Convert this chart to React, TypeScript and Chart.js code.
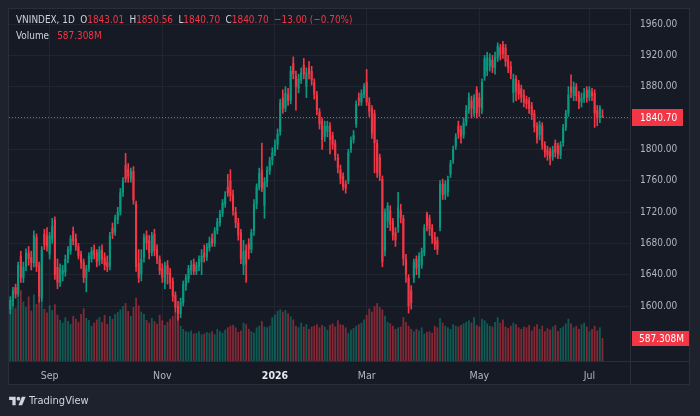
import React, { useEffect, useRef } from "react";
import { Chart, registerables } from "chart.js";

Chart.register(...registerables);

// ---------- DATA ----------
const opens = [
  1596, 1606, 1624, 1615, 1664, 1636, 1650, 1668, 1662, 1655, 1688, 1652, 1610, 1692, 1690, 1666, 1685,
  1710, 1650, 1630, 1640, 1643, 1660, 1670, 1696, 1686, 1676, 1666, 1656, 1636, 1648, 1660, 1672, 1668, 1658, 1672, 1662, 1656,
  1650, 1700, 1694, 1710, 1720, 1745, 1780, 1775, 1762, 1772, 1730, 1655, 1640, 1662, 1690, 1684, 1668, 1692, 1672, 1660, 1648, 1630, 1652, 1642, 1632, 1614,
  1600, 1590, 1604, 1626, 1634, 1646, 1654, 1644, 1650, 1656, 1668, 1662, 1674, 1686, 1680, 1696, 1706, 1718, 1730, 1752, 1760, 1742, 1720, 1706, 1694, 1652, 1672, 1680, 1672, 1696, 1730, 1752,
  1774, 1728, 1758, 1772, 1786, 1796, 1806, 1822, 1866, 1852, 1870, 1862, 1910, 1894, 1878, 1888, 1908, 1880, 1904, 1900, 1886, 1870, 1848, 1836, 1816, 1822, 1830, 1818, 1808, 1790, 1774, 1766, 1756,
  1760, 1800, 1812, 1832, 1866, 1860, 1870, 1886, 1860, 1852, 1846, 1808, 1790, 1762, 1670, 1708, 1722, 1708, 1694, 1700, 1722, 1712, 1660, 1636, 1620, 1636, 1660, 1640, 1652, 1668, 1718, 1712, 1700, 1688, 1684,
  1700, 1756, 1742, 1746, 1768, 1786, 1804, 1830, 1826, 1818, 1834, 1850, 1862, 1846, 1876, 1866, 1852, 1892, 1900, 1906, 1914, 1904, 1916, 1930, 1934, 1930, 1914, 1906, 1872, 1890, 1884, 1878, 1870,
  1864, 1862, 1856, 1846, 1830, 1818, 1830, 1806, 1800, 1798, 1790, 1808, 1804, 1792, 1808, 1828, 1846, 1880, 1868, 1880, 1870, 1860, 1864, 1876, 1866, 1874, 1872, 1850, 1840, 1843.01,
];
const highs = [
  1612, 1624, 1628, 1656, 1670, 1656, 1673, 1676, 1670, 1696, 1692, 1656, 1676, 1698, 1700, 1694, 1712,
  1714, 1660, 1654, 1652, 1665, 1676, 1690, 1701, 1692, 1680, 1670, 1660, 1652, 1668, 1675, 1678, 1672, 1676, 1678, 1668, 1664,
  1694, 1706, 1716, 1726, 1750, 1764, 1795, 1782, 1776, 1778, 1734, 1672, 1672, 1692, 1696, 1690, 1694, 1698, 1678, 1664, 1654, 1656, 1658, 1648, 1636, 1618,
  1606, 1610, 1632, 1640, 1652, 1658, 1660, 1656, 1664, 1672, 1678, 1680, 1688, 1692, 1700, 1712, 1722, 1736, 1746, 1768, 1774, 1748, 1726, 1712, 1698, 1684, 1678, 1686, 1698, 1736, 1756, 1776,
  1808, 1764, 1778, 1790, 1802, 1812, 1826, 1864, 1876, 1880, 1878, 1906, 1918, 1900, 1896, 1904, 1916, 1904, 1912, 1906, 1890, 1874, 1852, 1840, 1836, 1836, 1834, 1822, 1812, 1794, 1780, 1770, 1760,
  1800, 1816, 1824, 1862, 1872, 1876, 1884, 1902, 1866, 1856, 1850, 1812, 1794, 1766, 1724, 1732, 1728, 1712, 1700, 1745, 1730, 1716, 1666, 1640, 1626, 1660, 1664, 1668, 1674, 1704, 1720, 1716, 1704, 1694, 1688,
  1760, 1762, 1760, 1766, 1786, 1804, 1820, 1836, 1830, 1840, 1856, 1872, 1868, 1870, 1880, 1872, 1890, 1920, 1924, 1922, 1920, 1924, 1936, 1934, 1938, 1934, 1920, 1912, 1896, 1894, 1888, 1882, 1876,
  1868, 1866, 1860, 1850, 1834, 1836, 1834, 1810, 1804, 1802, 1804, 1812, 1808, 1810, 1832, 1850, 1880, 1895, 1886, 1884, 1874, 1872, 1878, 1880, 1880, 1878, 1876, 1856, 1856, 1850.56,
];
const lows = [
  1590, 1600, 1610, 1612, 1630, 1630, 1645, 1652, 1646, 1650, 1644, 1605, 1606, 1672, 1670, 1660, 1680,
  1634, 1622, 1625, 1632, 1638, 1655, 1666, 1678, 1671, 1660, 1648, 1630, 1618, 1644, 1656, 1660, 1650, 1652, 1654, 1646, 1644,
  1646, 1686, 1690, 1705, 1716, 1740, 1758, 1758, 1758, 1730, 1644, 1630, 1632, 1656, 1672, 1660, 1664, 1664, 1654, 1640, 1630, 1622, 1628, 1622, 1606, 1592,
  1582, 1585, 1600, 1620, 1630, 1640, 1640, 1640, 1645, 1640, 1656, 1658, 1670, 1676, 1676, 1692, 1702, 1714, 1726, 1740, 1734, 1716, 1700, 1684, 1654, 1640, 1630, 1660, 1668, 1690, 1724, 1748,
  1746, 1712, 1752, 1768, 1780, 1792, 1800, 1818, 1846, 1848, 1856, 1858, 1890, 1850, 1872, 1884, 1890, 1866, 1890, 1882, 1864, 1844, 1826, 1800, 1810, 1816, 1794, 1800, 1786, 1770, 1756, 1748, 1744,
  1756, 1796, 1808, 1828, 1856, 1856, 1866, 1856, 1842, 1814, 1770, 1764, 1760, 1650, 1664, 1700, 1696, 1684, 1676, 1694, 1706, 1652, 1630, 1591, 1596, 1630, 1640, 1636, 1648, 1664, 1696, 1690, 1680, 1672, 1666,
  1696, 1736, 1736, 1740, 1764, 1782, 1800, 1814, 1808, 1814, 1830, 1846, 1840, 1842, 1840, 1842, 1846, 1888, 1894, 1900, 1898, 1896, 1912, 1914, 1916, 1906, 1898, 1890, 1860, 1862, 1864, 1860, 1854,
  1852, 1846, 1838, 1822, 1808, 1812, 1800, 1790, 1786, 1780, 1786, 1790, 1788, 1788, 1804, 1824, 1842, 1866, 1862, 1862, 1852, 1854, 1860, 1860, 1862, 1862, 1828, 1830, 1834, 1840.7,
];
const closes = [
  1608, 1620, 1615, 1652, 1636, 1650, 1668, 1660, 1655, 1690, 1650, 1612, 1672, 1678, 1676, 1690, 1702,
  1640, 1630, 1648, 1646, 1660, 1672, 1686, 1683, 1676, 1664, 1655, 1636, 1648, 1664, 1670, 1665, 1656, 1672, 1660, 1652, 1650,
  1690, 1692, 1712, 1720, 1745, 1760, 1762, 1765, 1772, 1735, 1650, 1636, 1660, 1688, 1680, 1668, 1690, 1670, 1660, 1645, 1636, 1652, 1640, 1630, 1612, 1598,
  1590, 1605, 1628, 1636, 1648, 1652, 1644, 1652, 1660, 1664, 1662, 1676, 1682, 1680, 1696, 1708, 1718, 1732, 1740, 1744, 1740, 1722, 1706, 1690, 1660, 1670, 1654, 1672, 1694, 1730, 1752, 1770,
  1750, 1758, 1774, 1786, 1796, 1806, 1820, 1860, 1852, 1872, 1862, 1900, 1896, 1880, 1890, 1898, 1896, 1898, 1896, 1888, 1870, 1850, 1832, 1812, 1830, 1830, 1812, 1806, 1792, 1776, 1762, 1752, 1750,
  1796, 1812, 1818, 1858, 1862, 1872, 1880, 1860, 1848, 1820, 1808, 1770, 1766, 1656, 1720, 1728, 1704, 1690, 1684, 1726, 1712, 1660, 1640, 1600, 1604, 1656, 1648, 1664, 1670, 1700, 1702, 1698, 1686, 1678, 1672,
  1756, 1742, 1756, 1762, 1782, 1800, 1816, 1820, 1816, 1834, 1850, 1866, 1852, 1866, 1846, 1854, 1886, 1916, 1918, 1916, 1904, 1918, 1932, 1920, 1922, 1912, 1904, 1896, 1890, 1874, 1870, 1866, 1860,
  1858, 1852, 1844, 1828, 1814, 1832, 1806, 1796, 1792, 1788, 1800, 1796, 1794, 1806, 1828, 1846, 1870, 1872, 1880, 1868, 1860, 1866, 1872, 1866, 1876, 1868, 1846, 1840, 1853.7, 1840.7,
];
// volume in millions of shares
const volumes = [
  1560, 1480, 1350, 1620, 1810, 1520, 1380, 1650, 1290, 1700, 1460, 1560, 1680, 1330, 1240, 1420, 1300,
  1450, 1180, 1050, 980, 1120, 1020, 950, 1150, 1080, 1000, 1200, 1350, 1100, 1050, 900, 980, 1060, 1120, 1000, 1180, 950,
  1150, 1080, 1200, 1250, 1320, 1400, 1480, 1280, 1150, 1380, 1620, 1420, 1260, 1200, 1050, 980, 1100, 1020, 950, 1180, 1040, 920, 1000, 1080, 1150, 1240,
  1180, 900, 820, 760, 740, 780, 700, 720, 760, 680, 700, 740, 720, 760, 680, 820, 760, 720, 800, 860, 900, 920, 860, 740, 780, 980, 940, 820, 760, 720, 860, 900,
  1020, 880, 860, 900, 1120, 1180, 1280, 1320, 1260, 1300, 1220, 1140, 1060, 900, 860, 980, 880, 940, 820, 880, 900, 940, 860, 920, 880, 800, 920, 960, 880, 1040, 940, 920, 860,
  720, 800, 840, 900, 940, 980, 1060, 1180, 1340, 1260, 1400, 1480, 1380, 1320, 1160, 1000, 960, 900, 820, 860, 880, 1120, 1000, 900, 820, 760, 820, 780, 860, 700, 740, 760, 720, 900, 860,
  1100, 980, 900, 860, 820, 940, 900, 880, 920, 960, 1000, 1040, 980, 1120, 920, 880, 1080, 1040, 960, 900, 880, 1000, 1120, 980, 1060, 880, 840, 900, 980, 940, 860, 820, 880,
  860, 920, 780, 880, 940, 820, 900, 760, 840, 800, 880, 920, 760, 840, 880, 960, 1080, 960, 860, 900, 820, 940, 980, 880, 760, 820, 900, 780, 860, 587.308,
];
const tickIndex = [15, 58, 101, 136, 179, 221];
const tickLabels = ["Sep", "Nov", "2026", "Mar", "May", "Jul"];
const priceTicks = [1600, 1640, 1680, 1720, 1760, 1800, 1840, 1880, 1920, 1960];
const symbolName = "VNINDEX, 1D";
const rightPadBars = 10;

// ---------- STYLE ----------
const FONT = '"DejaVu Sans Condensed", "Liberation Sans", Arial, sans-serif';
const UP = "#089981";
const DOWN = "#f23645";
const UP_VOL = "rgba(8,153,129,0.5)";
const DOWN_VOL = "rgba(242,54,69,0.5)";
const GRID = "#21252f";
const AXIS_TEXT = "#b2b5be";
const OUTER_BG = "#1e222d";
const INNER_BG = "#161a25";
const BORDER = "#2a2e39";

const PRICE_MIN = 1529.8;
const PRICE_MAX = 1979.15;
const VOL_MAX = 9000;

function fmtVol(v: number) {
  return v.toFixed(3) + "M";
}

export default function App() {
  const ref = useRef<HTMLCanvasElement | null>(null);

  const n = closes.length;
  const lastO = opens[n - 1];
  const lastH = highs[n - 1];
  const lastL = lows[n - 1];
  const lastC = closes[n - 1];
  const prevC = closes[n - 2];
  const chg = lastC - prevC;
  const chgPct = (chg / prevC) * 100;
  const sign = (v: number) => (v < 0 ? "\u2212" : "+");
  const lastVol = volumes[n - 1];
  const lastUp = lastC >= lastO;
  const valColor = chg < 0 ? DOWN : UP;

  useEffect(() => {
    if (!ref.current) return;
    const labels = Array.from({ length: n + rightPadBars }, (_, i) => String(i));
    const isUp = closes.map((c, i) => c >= opens[i]);

    const bgPlugin = {
      id: "bg",
      beforeDraw(chart: any) {
        const ctx = chart.ctx;
        ctx.save();
        ctx.fillStyle = OUTER_BG;
        ctx.fillRect(0, 0, chart.width, chart.height);
        ctx.fillStyle = INNER_BG;
        ctx.fillRect(8, 8, 682, 377);
        ctx.strokeStyle = BORDER;
        ctx.lineWidth = 1;
        ctx.strokeRect(8.5, 8.5, 681, 376);
        const a = chart.chartArea;
        ctx.beginPath();
        ctx.moveTo(9, Math.round(a.bottom) + 0.5);
        ctx.lineTo(690, Math.round(a.bottom) + 0.5);
        ctx.moveTo(Math.round(a.right) + 0.5, 9);
        ctx.lineTo(Math.round(a.right) + 0.5, 385);
        ctx.stroke();
        ctx.restore();
      },
      afterDatasetsDraw(chart: any) {
        const ctx = chart.ctx;
        const a = chart.chartArea;
        const y = Math.round(chart.scales.y.getPixelForValue(lastC)) + 0.5;
        ctx.save();
        ctx.strokeStyle = lastUp ? UP : DOWN;
        ctx.lineWidth = 1;
        ctx.setLineDash([1, 2]);
        ctx.beginPath();
        ctx.moveTo(a.left, y);
        ctx.lineTo(a.right, y);
        ctx.stroke();
        ctx.restore();
      },
      afterDraw(chart: any) {
        const ctx = chart.ctx;
        const a = chart.chartArea;
        ctx.save();
        ctx.font = `10px ${FONT}`;
        ctx.textBaseline = "middle";
        ctx.textAlign = "left";
        const py = chart.scales.y.getPixelForValue(lastC);
        ctx.fillStyle = lastUp ? UP : DOWN;
        ctx.fillRect(a.right + 2, Math.round(py) - 8, 51, 17);
        ctx.fillStyle = "#ffffff";
        ctx.fillText(lastC.toFixed(2), a.right + 10, Math.round(py) + 1);
        const vy = chart.scales.yVol.getPixelForValue(lastVol);
        ctx.fillStyle = lastUp ? UP : DOWN;
        ctx.fillRect(a.right + 2, Math.round(vy) - 7, 57, 15);
        ctx.fillStyle = "#ffffff";
        ctx.fillText(fmtVol(lastVol), a.right + 9, Math.round(vy) + 1);
        ctx.restore();
      },
    };

    const chart = new Chart(ref.current, {
      type: "bar",
      data: {
        labels,
        datasets: [
          {
            label: "body",
            data: opens.map((o, i) => [o, closes[i]]) as any,
            backgroundColor: isUp.map((u) => (u ? UP : DOWN)),
            borderWidth: 0,
            barPercentage: 0.8,
            categoryPercentage: 1,
            grouped: false,
            minBarLength: 1,
            order: 0,
            yAxisID: "y",
          },
          {
            label: "wick",
            data: lows.map((l, i) => [l, highs[i]]) as any,
            backgroundColor: isUp.map((u) => (u ? UP : DOWN)),
            borderWidth: 0,
            barThickness: 1,
            grouped: false,
            order: 1,
            yAxisID: "y",
          },
          {
            label: "volume",
            data: volumes,
            backgroundColor: isUp.map((u) => (u ? UP_VOL : DOWN_VOL)),
            borderWidth: 0,
            barPercentage: 0.7,
            categoryPercentage: 1,
            grouped: false,
            order: 2,
            yAxisID: "yVol",
          },
        ],
      },
      options: {
        responsive: false,
        animation: false,
        events: [],
        layout: { padding: { left: 9, top: 9, right: 10, bottom: 31 } },
        plugins: { legend: { display: false }, tooltip: { enabled: false } },
        scales: {
          x: {
            type: "category",
            offset: true,
            grid: { offset: false, color: GRID, drawTicks: false },
            border: { display: false },
            ticks: {
              autoSkip: false,
              maxRotation: 0,
              padding: 9,
              color: (c: any) => (tickLabels[c.index] === "2026" ? "#e8eaf0" : AXIS_TEXT),
              font: (c: any) => ({
                family: FONT,
                size: 10.5,
                weight: tickLabels[c.index] === "2026" ? "bold" : "normal",
              }),
              callback: (_v: any, i: number) => tickLabels[i] ?? "",
            },
            afterBuildTicks: (s: any) => {
              s.ticks = tickIndex.map((v) => ({ value: v }));
            },
            afterFit: (s: any) => {
              s.height = 24;
              s.paddingLeft = 0;
              s.paddingRight = 0;
            },
          },
          y: {
            position: "right",
            min: PRICE_MIN,
            max: PRICE_MAX,
            grid: { color: GRID, drawTicks: false },
            border: { display: false },
            ticks: {
              padding: 10,
              color: AXIS_TEXT,
              font: { family: FONT, size: 10 },
              callback: (v: any) => Number(v).toFixed(2),
            },
            afterBuildTicks: (s: any) => {
              s.ticks = priceTicks.map((v) => ({ value: v }));
            },
            afterFit: (s: any) => {
              s.width = 60;
              s.paddingTop = 0;
              s.paddingBottom = 0;
            },
          },
          yVol: {
            display: false,
            min: 0,
            max: VOL_MAX,
          },
        },
      } as any,
      plugins: [bgPlugin],
    });
    return () => chart.destroy();
  }, []);

  const lbl: React.CSSProperties = { color: "#d1d4dc" };
  const val: React.CSSProperties = { color: valColor };
  const gap: React.CSSProperties = { marginLeft: 6 };

  return (
    <div
      style={{
        position: "fixed",
        left: 0,
        top: 0,
        width: 700,
        height: 416,
        background: OUTER_BG,
        overflow: "hidden",
        fontFamily: FONT,
      }}
    >
      <canvas ref={ref} width={700} height={416} style={{ display: "block", width: 700, height: 416 }} />
      <div
        style={{
          position: "absolute",
          left: 16,
          top: 12,
          fontSize: 11,
          lineHeight: "16px",
          whiteSpace: "nowrap",
          transform: "scaleX(0.9)",
          transformOrigin: "left top",
        }}
      >
        <div>
          <span style={lbl}>{symbolName}</span>
          <span style={gap}>
            <span style={lbl}>O</span>
            <span style={val}>{lastO.toFixed(2)}</span>
          </span>
          <span style={gap}>
            <span style={lbl}>H</span>
            <span style={val}>{lastH.toFixed(2)}</span>
          </span>
          <span style={gap}>
            <span style={lbl}>L</span>
            <span style={val}>{lastL.toFixed(2)}</span>
          </span>
          <span style={gap}>
            <span style={lbl}>C</span>
            <span style={val}>{lastC.toFixed(2)}</span>
          </span>
          <span style={{ ...gap, ...val }}>
            {sign(chg) + Math.abs(chg).toFixed(2)} ({sign(chg) + Math.abs(chgPct).toFixed(2)}%)
          </span>
        </div>
        <div>
          <span style={lbl}>Volume</span>
          <span style={{ ...val, marginLeft: 9 }}>{fmtVol(lastVol)}</span>
        </div>
      </div>
      <div
        style={{
          position: "absolute",
          left: 9,
          top: 394,
          display: "flex",
          alignItems: "center",
          color: "#d1d4dc",
          fontSize: 11,
          lineHeight: "14px",
        }}
      >
        <svg width="17" height="13" viewBox="0 0 36 28" style={{ display: "block" }}>
          <path d="M14 22H7V11H0V4h14v18z" fill="#d1d4dc" />
          <circle cx="20" cy="8" r="4" fill="#d1d4dc" />
          <path d="M28 22h-8l7.5-18h8L28 22z" fill="#d1d4dc" />
        </svg>
        <span style={{ marginLeft: 3 }}>TradingView</span>
      </div>
    </div>
  );
}
